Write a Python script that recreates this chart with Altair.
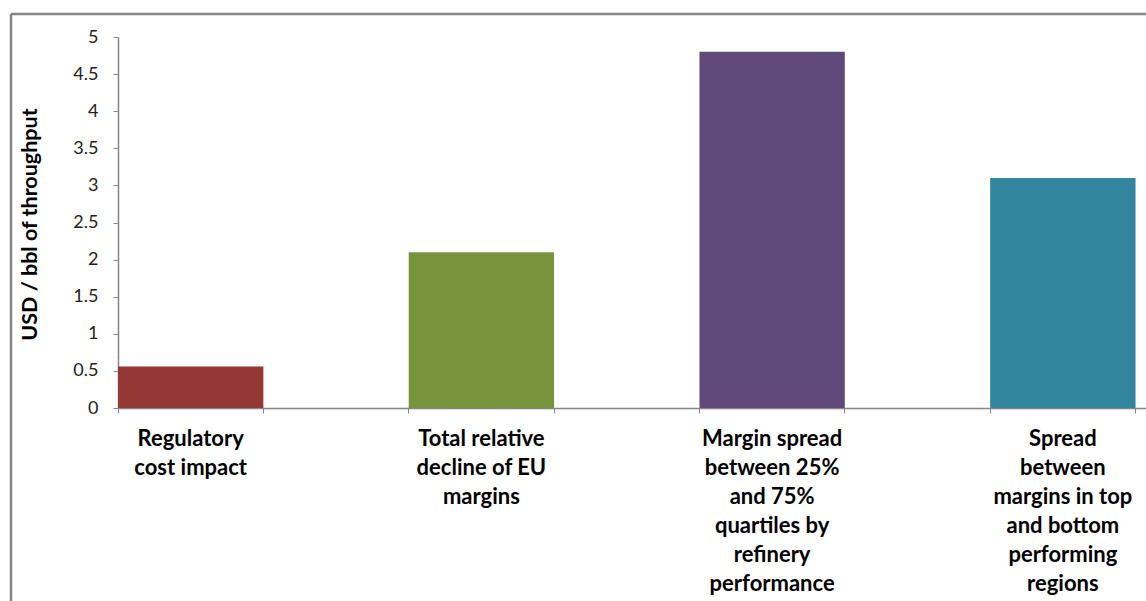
import altair as alt
import pandas as pd

categories = [
    "Regulatory\ncost impact",
    "Total relative\ndecline of EU\nmargins",
    "Margin spread\nbetween 25%\nand 75%\nquartiles by\nrefinery\nperformance",
    "Spread\nbetween\nmargins in top\nand bottom\nperforming\nregions",
]
values = [0.56, 2.1, 4.8, 3.1]
colors = ["#953735", "#77933C", "#604A7B", "#31859C"]
y_ticks = [0, 0.5, 1, 1.5, 2, 2.5, 3, 3.5, 4, 4.5, 5]

df = pd.DataFrame({"cat": categories, "val": values, "color": colors})

FONT = "Lato"
AX = "#868686"
W = 1028
H = 371

xscale = alt.Scale(paddingInner=0.5, paddingOuter=0.018, align=0)
yscale = alt.Scale(domain=[0, 5], nice=False)

yaxis = alt.Axis(title="USD / bbl of throughput", orient="left",
                 values=y_ticks, format="~g",
                 labelFont=FONT, labelFontSize=18, labelColor="#222222",
                 labelPadding=15, tickSize=5, tickColor=AX, domainColor=AX,
                 domainWidth=1.5, grid=False,
                 titleFont=FONT, titleFontSize=21.5, titleFontWeight="bold",
                 titleColor="#000000", titleAngle=-90, titleX=-88, titleY=187,
                 titleAlign="center", titleBaseline="middle")

bars = alt.Chart(df).mark_bar().encode(
    x=alt.X("cat:N", sort=categories, scale=xscale,
            axis=alt.Axis(title=None, orient="bottom", labelAngle=0, labelFont=FONT, labelFontSize=22,
                          labelFontWeight="bold", labelColor="#000000",
                          labelExpr="split(datum.label, '\\n')", labelLineHeight=29,
                          labelBaseline="top", labelPadding=15, labelLimit=400,
                          labelOverlap=False, bandPosition=0, tickSize=5,
                          tickColor=AX, domainColor=AX, domainWidth=1.5, grid=False)),
    y=alt.Y("val:Q", scale=yscale, axis=yaxis),
    color=alt.Color("color:N", scale=None),
)

ticks2 = alt.Chart(df).mark_bar(opacity=0).encode(
    x=alt.X("cat:N", sort=categories, scale=xscale,
            axis=alt.Axis(title=None, orient="bottom", labels=False, domain=False, bandPosition=1,
                          tickSize=5, tickColor=AX, grid=False)),
    y=alt.Y("val:Q", scale=yscale, axis=yaxis),
)

frame_df = pd.DataFrame({"k": [0]})
frame = alt.Chart(frame_df).mark_rule(color="#878787", strokeWidth=2.5).encode(
    x=alt.value(-107), x2=alt.value(W), y=alt.value(-23)
)
frame2 = alt.Chart(frame_df).mark_rule(color="#878787", strokeWidth=2.5).encode(
    x=alt.value(-107), y=alt.value(-23), y2=alt.value(601 - 37)
)

chart = alt.layer(bars, ticks2, frame, frame2).resolve_axis(x="independent").properties(
    width=W, height=H,
    autosize=alt.AutoSizeParams(type="none"),
    padding={"left": 118, "top": 37, "right": 0, "bottom": 601 - 37 - H},
    view=alt.ViewBackground(stroke="transparent", strokeWidth=0),
).configure_view(stroke="transparent", strokeWidth=0).configure(background="white")

chart.save("out.html", embed_options={"renderer": "svg", "actions": False})
